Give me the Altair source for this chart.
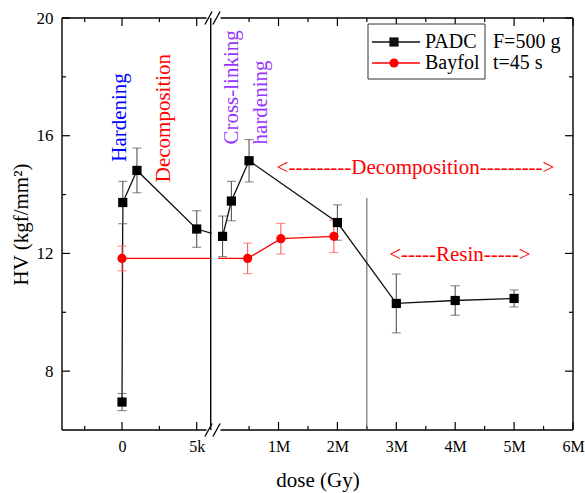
import altair as alt
import pandas as pd

# ---------------- data ----------------
padc_dose = [0, 50, 1000, 5000, 50000, 200000, 500000, 2000000, 3000000, 4000000, 5000000]
padc_hv   = [6.95, 13.73, 14.82, 12.83, 12.58, 13.78, 15.15, 13.05, 10.30, 10.40, 10.47]
padc_err  = [0.29, 0.72, 0.76, 0.62, 0.69, 0.67, 0.72, 0.60, 1.00, 0.50, 0.29]

bayfol_dose = [0, 475000, 1040000, 1940000]
bayfol_hv   = [11.83, 11.83, 12.50, 12.58]
bayfol_err  = [0.42, 0.52, 0.52, 0.55]

x_major_dose   = [0, 5000, 1000000, 2000000, 3000000, 4000000, 5000000, 6000000]
x_major_labels = ["0", "5k", "1M", "2M", "3M", "4M", "5M", "6M"]
x_minor_dose   = [-2500, 2500, 500000, 1500000, 2500000, 3500000, 4500000, 5500000]
y_major = [8, 12, 16, 20]
y_minor = [10, 14, 18]

legend_names  = ["PADC", "Bayfol"]
legend_notes  = ["F=500 g", "t=45 s"]

ann_text  = ["Hardening", "Decomposition", "Cross-linking", "hardening",
             "<---------Decomposition--------->", "<-----Resin----->"]
ann_dose  = [-110, 2780, 211000, 700000, 3326000, 4080000]
ann_hv    = [16.62, 16.60, 17.64, 17.13, 14.89, 11.95]
ann_color = ["#0000ff", "#ff0000", "#9933ff", "#9933ff", "#ff0000", "#ff0000"]
ann_angle = [270, 270, 270, 270, 0, 0]

# ---------------- broken x axis ----------------
LEFT_ZERO_U = -1.657          # where dose 0 sits on the broken axis
LEFT_U_PER_GY = 1.268 / 5000  # stretch of the low-dose segment
BREAK_U = -0.151
X_MIN_U, X_MAX_U = -2.676, 6.0
Y_MIN, Y_MAX = 6, 20
RESIN_LINE_DOSE = 2500000
RESIN_LINE_TOP = 13.88


def to_u(d):
    return LEFT_ZERO_U + d * LEFT_U_PER_GY if d < 10000 else d / 1e6


W, H = 511, 412
FONT = "Liberation Serif"

label_expr = "".join(
    f"abs(datum.value - ({to_u(d):.5f})) < 0.01 ? '{lab}' : "
    for d, lab in zip(x_major_dose, x_major_labels)
) + "''"

xscale = alt.Scale(domain=[X_MIN_U, X_MAX_U], nice=False, zero=False)
yscale = alt.Scale(domain=[Y_MIN, Y_MAX], nice=False, zero=False)
xaxis = alt.Axis(values=[to_u(d) for d in x_major_dose], labelExpr=label_expr,
                 title="dose (Gy)", ticks=False, tickSize=0, domain=False, grid=False,
                 labelPadding=8, labelFont=FONT, labelFontSize=16, labelColor="black",
                 titleFont=FONT, titleFontSize=21, titleFontWeight="normal",
                 titleColor="black", titlePadding=15, labelFlush=False, labelOverlap=False)
yaxis = alt.Axis(values=y_major, title="HV (kgf/mm²)", ticks=False, tickSize=0,
                 domain=False, grid=False, labelPadding=9, labelFont=FONT,
                 labelFontSize=17, labelColor="black", titleFont=FONT, titleFontSize=21,
                 titleFontWeight="normal", titleColor="black", titlePadding=5)


def XE(f):
    return alt.X(f, type="quantitative", scale=xscale, axis=xaxis)


def YE(f):
    return alt.Y(f, type="quantitative", scale=yscale, axis=yaxis)


def X2(f):
    return alt.X2(f)


def Y2(f):
    return alt.Y2(f)


padc = pd.DataFrame({
    "u": [to_u(d) for d in padc_dose], "hv": padc_hv,
    "lo": [h - e for h, e in zip(padc_hv, padc_err)],
    "hi": [h + e for h, e in zip(padc_hv, padc_err)],
    "idx": list(range(len(padc_dose)))})
bay = pd.DataFrame({
    "u": [to_u(d) for d in bayfol_dose], "hv": bayfol_hv,
    "lo": [h - e for h, e in zip(bayfol_hv, bayfol_err)],
    "hi": [h + e for h, e in zip(bayfol_hv, bayfol_err)],
    "idx": list(range(len(bayfol_dose)))})

# frame
frame = pd.DataFrame({
    "x1": [X_MIN_U, X_MIN_U, X_MIN_U, X_MAX_U],
    "x2": [X_MAX_U, X_MAX_U, X_MIN_U, X_MAX_U],
    "y1": [Y_MAX, Y_MIN, Y_MIN, Y_MIN],
    "y2": [Y_MAX, Y_MIN, Y_MAX, Y_MAX]})
frame_l = alt.Chart(frame).mark_rule(color="black", strokeWidth=1.4).encode(
    x=XE("x1"), x2=X2("x2"), y=YE("y1"), y2=Y2("y2"))

xmaj = pd.DataFrame({"u": [to_u(d) for d in x_major_dose]})
xmin = pd.DataFrame({"u": [to_u(d) for d in x_minor_dose]})
ymaj = pd.DataFrame({"v": y_major})
ymin = pd.DataFrame({"v": y_minor})
tick_style = dict(color="black", strokeWidth=1.2)
ticks = [
    alt.Chart(xmaj).mark_rule(**tick_style).encode(x=XE("u"), y=alt.value(H), y2=alt.value(H - 8)),
    alt.Chart(xmaj).mark_rule(**tick_style).encode(x=XE("u"), y=alt.value(0), y2=alt.value(8)),
    alt.Chart(xmin).mark_rule(**tick_style).encode(x=XE("u"), y=alt.value(H), y2=alt.value(H - 4)),
    alt.Chart(xmin).mark_rule(**tick_style).encode(x=XE("u"), y=alt.value(0), y2=alt.value(4)),
    alt.Chart(ymaj).mark_rule(**tick_style).encode(y=YE("v"), x=alt.value(0), x2=alt.value(8)),
    alt.Chart(ymaj).mark_rule(**tick_style).encode(y=YE("v"), x=alt.value(W), x2=alt.value(W - 8)),
    alt.Chart(ymin).mark_rule(**tick_style).encode(y=YE("v"), x=alt.value(0), x2=alt.value(4)),
    alt.Chart(ymin).mark_rule(**tick_style).encode(y=YE("v"), x=alt.value(W), x2=alt.value(W - 4)),
]

resin_line = alt.Chart(pd.DataFrame({"u": [RESIN_LINE_DOSE / 1e6], "a": [Y_MIN], "b": [RESIN_LINE_TOP]})).mark_rule(
    color="#555555", strokeWidth=1).encode(x=XE("u"), y=YE("a"), y2=Y2("b"))

padc_line = alt.Chart(padc).mark_line(color="#111111", strokeWidth=1.3).encode(
    x=XE("u"), y=YE("hv"), order="idx:Q")
bay_line = alt.Chart(bay).mark_line(color="#ff0000", strokeWidth=1.3).encode(
    x=XE("u"), y=YE("hv"), order="idx:Q")

# white gap at the axis break
PX_U = W / (X_MAX_U - X_MIN_U)
PX_Y = H / (Y_MAX - Y_MIN)
gap = pd.DataFrame({
    "x1": [BREAK_U + 0.8 / PX_U, BREAK_U - 4.2 / PX_U, BREAK_U - 4.2 / PX_U],
    "x2": [BREAK_U + 7.4 / PX_U, BREAK_U + 9.8 / PX_U, BREAK_U + 9.8 / PX_U],
    "y1": [Y_MIN, Y_MAX - 2.5 / PX_Y, Y_MIN - 2.5 / PX_Y],
    "y2": [Y_MAX, Y_MAX + 2.5 / PX_Y, Y_MIN + 2.5 / PX_Y]})
gap_l = alt.Chart(gap).mark_rect(color="white").encode(
    x=XE("x1"), x2=X2("x2"), y=YE("y1"), y2=Y2("y2"))

sep = alt.Chart(pd.DataFrame({"u": [BREAK_U], "a": [Y_MIN], "b": [Y_MAX]})).mark_rule(
    color="black", strokeWidth=1.4).encode(x=XE("u"), y=YE("a"), y2=Y2("b"))

sl_c = [BREAK_U - 2.2 / PX_U, BREAK_U + 5.8 / PX_U]
sl_rows = []
for yy in (Y_MIN, Y_MAX):
    for c in sl_c:
        sl_rows.append({"x1": c - 3.6 / PX_U, "x2": c + 3.6 / PX_U,
                        "y1": yy - 6.5 / PX_Y, "y2": yy + 6.5 / PX_Y})
slashes = alt.Chart(pd.DataFrame(sl_rows)).mark_rule(color="black", strokeWidth=1.3).encode(
    x=XE("x1"), x2=X2("x2"), y=YE("y1"), y2=Y2("y2"))


def errbars(df, col):
    bar = alt.Chart(df).mark_rule(color=col, strokeWidth=1.1).encode(
        x=XE("u"), y=YE("lo"), y2=Y2("hi"))
    cap = alt.Chart(df).transform_fold(["lo", "hi"], as_=["k", "v"]).mark_tick(
        color=col, orient="horizontal", size=9, thickness=1.1).encode(x=XE("u"), y=YE("v:Q"))
    return [bar, cap]


padc_pts = alt.Chart(padc).mark_point(shape="square", filled=True, size=85, color="black",
                                      opacity=1).encode(x=XE("u"), y=YE("hv"))
bay_pts = alt.Chart(bay).mark_point(shape="circle", filled=True, size=85, color="#ff0000",
                                    opacity=1).encode(x=XE("u"), y=YE("hv"))

ann_layers = []
for t, d, h, c, a in zip(ann_text, ann_dose, ann_hv, ann_color, ann_angle):
    ann_layers.append(
        alt.Chart(pd.DataFrame({"t": [t], "u": [to_u(d)], "hv": [h]})).mark_text(
            font=FONT, fontSize=21, color=c, angle=a, align="center", baseline="middle"
        ).encode(x=XE("u"), y=YE("hv"), text="t:N"))

# legend (drawn by hand, box + two entries + notes)
leg = [alt.Chart(pd.DataFrame({"a": [0]})).mark_rect(fill="white", stroke="#333333", strokeWidth=1).encode(
    x=alt.value(306), x2=alt.value(423), y=alt.value(6), y2=alt.value(61))]
for i, (name, note, col, shp) in enumerate(zip(legend_names, legend_notes, ["#111111", "#ff0000"],
                                               ["square", "circle"])):
    yy = 24 + 21 * i
    d = pd.DataFrame({"t": [name], "n": [note]})
    leg += [
        alt.Chart(d).mark_rule(color=col, strokeWidth=1.3).encode(
            x=alt.value(310), x2=alt.value(358), y=alt.value(yy)),
        alt.Chart(d).mark_point(shape=shp, filled=True, size=85, color=col, opacity=1).encode(
            x=alt.value(332), y=alt.value(yy)),
        alt.Chart(d).mark_text(font=FONT, fontSize=20, color="black", align="left",
                               baseline="middle").encode(x=alt.value(363), y=alt.value(yy), text="t:N"),
        alt.Chart(d).mark_text(font=FONT, fontSize=20, color="black", align="left",
                               baseline="middle").encode(x=alt.value(431), y=alt.value(yy), text="n:N"),
    ]

layers = ([frame_l] + ticks + [resin_line, padc_line, bay_line, gap_l, sep, slashes]
          + errbars(padc, "#555555") + errbars(bay, "#ff5a5a") + [padc_pts, bay_pts]
          + ann_layers + leg)

chart = alt.layer(*layers).properties(
    width=W, height=H, autosize="none",
    padding={"left": 62, "top": 18, "right": 12, "bottom": 63},
    background="white",
).configure_view(stroke=None)

chart.save("out.html", embed_options={"renderer": "svg", "actions": False})
